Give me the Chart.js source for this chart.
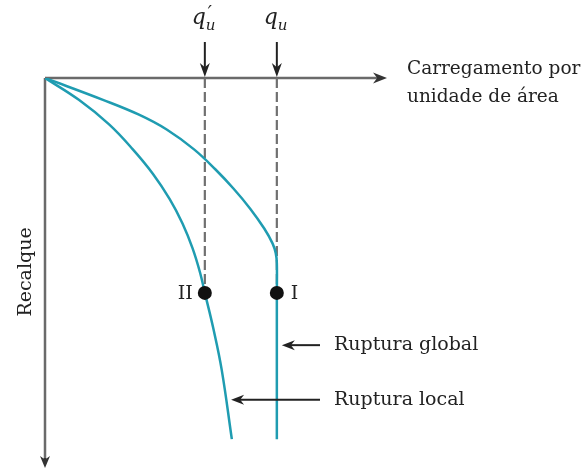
<!DOCTYPE html>
<html>
<head>
<meta charset="utf-8">
<script src="https://cdn.jsdelivr.net/npm/chart.js@4"></script>
<style>
  html, body { margin: 0; padding: 0; background: #fff; }
</style>
</head>
<body>
<canvas id="chart" width="582" height="475"></canvas>
<script>
// curve I (ruptura global): load vs settlement, vertical below qu
var loadI   = [0, 1.61, 2.61, 3.38, 4.14, 4.73, 5.24, 5.70, 6.09, 6.32, 6.41, 6.44, 6.44, 6.44];
var settleI = [0, 0.56, 0.94, 1.32, 1.83, 2.34, 2.84, 3.35, 3.86, 4.24, 4.49, 4.75, 5.51, 9.26];
// curve II (ruptura local)
var loadII   = [0, 0.94, 1.78, 2.44, 3.00, 3.46, 3.82, 4.10, 4.31, 4.44, 4.67, 4.91, 5.19];
var settleII = [0, 0.56, 1.19, 1.83, 2.46, 3.10, 3.73, 4.37, 5.00, 5.51, 6.40, 7.49, 9.26];

var qLoads = [4.44, 6.44];          // q'u , qu
var qNames = ["q'", 'q'];
var failureSettle = 5.51;            // settlement at points II and I
var pointNames = ['II', 'I'];

var failureLabels = ['Ruptura global', 'Ruptura local'];
var failureDepths = [6.85, 8.25];

var xTitle = ['Carregamento por', 'unidade de área'];
var yTitle = 'Recalque';
var axisEnd = [9.5, 10];

var teal = '#1f9cb1';
var serif = '"DejaVu Serif", serif';

function toXY(xs, ys) {
  return xs.map(function(x, i) { return { x: x, y: ys[i] }; });
}

// x of a curve at a given settlement (linear between points)
function curveX(xs, ys, y) {
  for (var i = 1; i < ys.length; i++) {
    if (y <= ys[i]) {
      var t = (y - ys[i - 1]) / (ys[i] - ys[i - 1]);
      return xs[i - 1] + t * (xs[i] - xs[i - 1]);
    }
  }
  return xs[xs.length - 1];
}

function arrow(ctx, x1, y1, x2, y2, len, half, color, width) {
  var a = Math.atan2(y2 - y1, x2 - x1);
  ctx.save();
  ctx.strokeStyle = color;
  ctx.fillStyle = color;
  ctx.lineWidth = width;
  ctx.beginPath();
  ctx.moveTo(x1, y1);
  ctx.lineTo(x2 - Math.cos(a) * len * 0.6, y2 - Math.sin(a) * len * 0.6);
  ctx.stroke();
  ctx.beginPath();
  ctx.moveTo(x2, y2);
  ctx.lineTo(x2 - Math.cos(a) * len - Math.sin(a) * half, y2 - Math.sin(a) * len + Math.cos(a) * half);
  ctx.lineTo(x2 - Math.cos(a) * len * 0.7, y2 - Math.sin(a) * len * 0.7);
  ctx.lineTo(x2 - Math.cos(a) * len + Math.sin(a) * half, y2 - Math.sin(a) * len - Math.cos(a) * half);
  ctx.closePath();
  ctx.fill();
  ctx.restore();
}

var overlay = {
  id: 'overlay',
  beforeDatasetsDraw: function(chart) {
    var ctx = chart.ctx, sx = chart.scales.x, sy = chart.scales.y;
    var x0 = sx.getPixelForValue(0), y0 = sy.getPixelForValue(0);
    ctx.save();
    ctx.strokeStyle = '#6a6a6a';
    ctx.lineWidth = 2.5;
    ctx.beginPath();
    ctx.moveTo(x0, y0);
    ctx.lineTo(sx.getPixelForValue(axisEnd[0]) - 6, y0);
    ctx.moveTo(x0, y0);
    ctx.lineTo(x0, sy.getPixelForValue(axisEnd[1]) - 6);
    ctx.stroke();
    ctx.restore();
    arrow(ctx, sx.getPixelForValue(axisEnd[0]) - 10, y0, sx.getPixelForValue(axisEnd[0]), y0, 14, 5.5, '#333', 2.5);
    arrow(ctx, x0, sy.getPixelForValue(axisEnd[1]) - 10, x0, sy.getPixelForValue(axisEnd[1]), 12, 5, '#333', 2.5);
  },
  afterDatasetsDraw: function(chart) {
    var ctx = chart.ctx, sx = chart.scales.x, sy = chart.scales.y;
    var y0 = sy.getPixelForValue(0);
    ctx.save();
    ctx.fillStyle = '#222';

    // q'u and qu arrows and labels
    qLoads.forEach(function(q, i) {
      var px = sx.getPixelForValue(q);
      arrow(ctx, px, 42, px, y0 - 1, 14, 5, '#222', 2);
      ctx.font = 'italic 22px ' + serif;
      ctx.textAlign = 'left';
      ctx.textBaseline = 'alphabetic';
      var w = ctx.measureText('q').width;
      ctx.fillText('q', px - w + 1, 24);
      ctx.font = 'italic 15px ' + serif;
      ctx.fillText('u', px + 1, 30);
      if (qNames[i].indexOf("'") >= 0) {
        ctx.font = 'italic 18px ' + serif;
        ctx.fillText('\u2032', px + 3, 19);
      }
    });

    // point names
    ctx.font = '19px ' + serif;
    ctx.textBaseline = 'middle';
    var py = sy.getPixelForValue(failureSettle);
    ctx.textAlign = 'right';
    ctx.fillText(pointNames[0], sx.getPixelForValue(qLoads[0]) - 12, py + 1);
    ctx.textAlign = 'left';
    ctx.fillText(pointNames[1], sx.getPixelForValue(qLoads[1]) + 14, py + 1);

    // failure annotations
    var tailX = 320, textX = 334;
    failureLabels.forEach(function(lbl, i) {
      var yy = sy.getPixelForValue(failureDepths[i]);
      var cx = i === 0 ? curveX(loadI, settleI, failureDepths[i]) : curveX(loadII, settleII, failureDepths[i]);
      arrow(ctx, tailX, yy, sx.getPixelForValue(cx) + 5, yy, 13, 5, '#222', 2);
      ctx.textAlign = 'left';
      ctx.font = '19px ' + serif;
      ctx.fillText(lbl, textX, yy);
    });

    // axis titles
    ctx.font = '18.5px ' + serif;
    ctx.textBaseline = 'alphabetic';
    ctx.fillText(xTitle[0], 407, 74);
    ctx.fillText(xTitle[1], 407, 102);

    ctx.translate(31, 272);
    ctx.rotate(-Math.PI / 2);
    ctx.textAlign = 'center';
    ctx.font = '19px ' + serif;
    ctx.fillText(yTitle, 0, 0);
    ctx.restore();
  }
};

new Chart(document.getElementById('chart'), {
  type: 'scatter',
  data: {
    datasets: [
      {
        data: toXY(loadI, settleI),
        showLine: true,
        borderColor: teal,
        borderWidth: 2.5,
        pointRadius: 0,
        tension: 0.4,
        fill: false,
        order: 2
      },
      {
        data: toXY(loadII, settleII),
        showLine: true,
        borderColor: teal,
        borderWidth: 2.5,
        pointRadius: 0,
        tension: 0.4,
        fill: false,
        order: 2
      },
      {
        data: [{ x: qLoads[0], y: 0 }, { x: qLoads[0], y: failureSettle }],
        showLine: true,
        borderColor: '#707070',
        borderWidth: 2.2,
        borderDash: [10, 4],
        pointRadius: 0,
        order: 3
      },
      {
        data: [{ x: qLoads[1], y: 0 }, { x: qLoads[1], y: failureSettle }],
        showLine: true,
        borderColor: '#707070',
        borderWidth: 2.2,
        borderDash: [10, 4],
        pointRadius: 0,
        order: 3
      },
      {
        data: [{ x: qLoads[0], y: failureSettle }, { x: qLoads[1], y: failureSettle }],
        showLine: false,
        pointRadius: 7,
        pointBackgroundColor: '#111',
        pointBorderWidth: 0,
        order: 1
      }
    ]
  },
  options: {
    responsive: false,
    animation: false,
    layout: {
      padding: { left: 45, top: 78, right: 177, bottom: 3 }
    },
    scales: {
      x: { type: 'linear', min: 0, max: 10, display: false },
      y: { type: 'linear', min: 0, max: 10, reverse: true, display: false }
    },
    plugins: {
      legend: { display: false },
      tooltip: { enabled: false }
    }
  },
  plugins: [overlay]
});
</script>
</body>
</html>
